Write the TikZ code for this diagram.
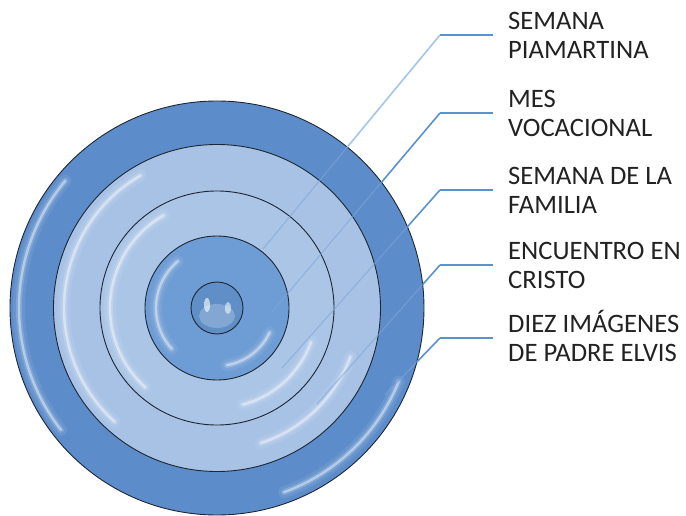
\documentclass[tikz,border=0pt]{standalone}
\usepackage{fontspec}
\setmainfont{Carlito}
\usetikzlibrary{intersections}
\definecolor{ringdark}{HTML}{5C8CCA}
\definecolor{ringlight}{HTML}{A8C2E5}
\definecolor{ringlight2}{HTML}{ABC5E7}
\definecolor{ringmid}{HTML}{6E9CD4}
\definecolor{core}{HTML}{5F8FC6}
\definecolor{edge}{HTML}{1E2633}
\definecolor{conn}{HTML}{5A92D0}
\definecolor{connlight}{HTML}{A3C6EC}
\definecolor{connin}{HTML}{7FA6D8}
\definecolor{labeltext}{HTML}{222222}
\tikzset{
  disc/.style={circle, draw=edge, line width=0.9pt, inner sep=0pt},
  glowA/.style={white, line cap=round, line width=12pt, opacity=0.08},
  glowB/.style={white, line cap=round, line width=6pt, opacity=0.16},
  glowC/.style={white, line cap=round, line width=2.4pt, opacity=0.42},
  lbl/.style={anchor=west, inner sep=0pt, align=left, font=\fontsize{26.6}{29}\selectfont, text=labeltext},
  connout/.style={draw=conn, line width=1.6pt},
  connpale/.style={draw=connlight, line width=1.6pt},
  connh/.style={draw=conn, line width=2.4pt},
  connfaint/.style={draw=connin, line width=1.2pt, opacity=0.6},
}
\newcommand{\glowarc}[3]{%
  \draw[glowA] ([shift={(#1:#3pt)}]217,207) arc[start angle=#1, end angle=#2, radius=#3pt];
  \draw[glowB] ([shift={(#1:#3pt)}]217,207) arc[start angle=#1, end angle=#2, radius=#3pt];
  \draw[glowC] ([shift={(#1:#3pt)}]217,207) arc[start angle=#1, end angle=#2, radius=#3pt];
}
\begin{document}
\begin{tikzpicture}[x=1pt,y=1pt]
\useasboundingbox (0,0) rectangle (686,515);
\fill[white] (0,0) rectangle (686,515);
\coordinate (C) at (217,207);
% rings
\node[disc, fill=ringdark, minimum size=414pt] (r1) at (C) {};
\glowarc{140}{218}{198}
\glowarc{-22}{-70}{196}
\node[disc, fill=ringlight, minimum size=327pt] (r2) at (C) {};
\glowarc{120}{228}{153}
\glowarc{-20}{-72}{142}
\node[disc, fill=ringlight2, minimum size=234pt] (r3) at (C) {};
\glowarc{120}{228}{107}
\glowarc{-20}{-75}{100}
\node[disc, fill=ringmid, minimum size=144pt] (r4) at (C) {};
\glowarc{130}{222}{61}
\glowarc{-25}{-80}{58}
\node[disc, fill=core, minimum size=52pt] (r5) at (C) {};
\fill[white, opacity=0.22] (C) ++(0,-8) ellipse[x radius=18pt, y radius=12pt];
\fill[white, opacity=0.6] (C) ++(-10,3) ellipse[x radius=3pt, y radius=7pt];
\fill[white, opacity=0.55] (C) ++(11,0) ellipse[x radius=3pt, y radius=6pt];
% labels
\node[lbl] (l1) at (508,480) {SEMANA\\PIAMARTINA};
\node[lbl] (l2) at (508,402) {MES\\VOCACIONAL};
\node[lbl] (l3) at (508,325) {SEMANA DE LA\\FAMILIA};
\node[lbl] (l4) at (508,250) {ENCUENTRO EN\\CRISTO};
\node[lbl] (l5) at (508,177) {DIEZ IM\smash{Á}GENES\\DE PADRE ELVIS};
% connector corners and ends
\coordinate (k1) at (440,480); \coordinate (e1) at (263,266);
\coordinate (k2) at (440,402); \coordinate (e2) at (272,203);
\coordinate (k3) at (440,325); \coordinate (e3) at (282,147);
\coordinate (k4) at (440,250); \coordinate (e4) at (317,111);
\coordinate (k5) at (440,177); \coordinate (e5) at (385,120);
\path[name path=outer] (C) circle[radius=207pt];
\foreach \i in {1,...,5}{
  \path[name path=cc\i] (k\i) -- (e\i);
  \path[name intersections={of=outer and cc\i, by={b\i}}];
  \draw[connfaint] (b\i) -- (e\i);
}
\draw[connpale] (k1) -- (b1);
\draw[connout] (k2) -- (b2);
\draw[connout] (k3) -- (b3);
\draw[connout] (k4) -- (b4);
\draw[connout] (k5) -- (b5);
\foreach \i in {1,...,5}{
  \draw[connh] (k\i) -- ([xshift=-15pt]l\i.west);
}
\end{tikzpicture}
\end{document}
